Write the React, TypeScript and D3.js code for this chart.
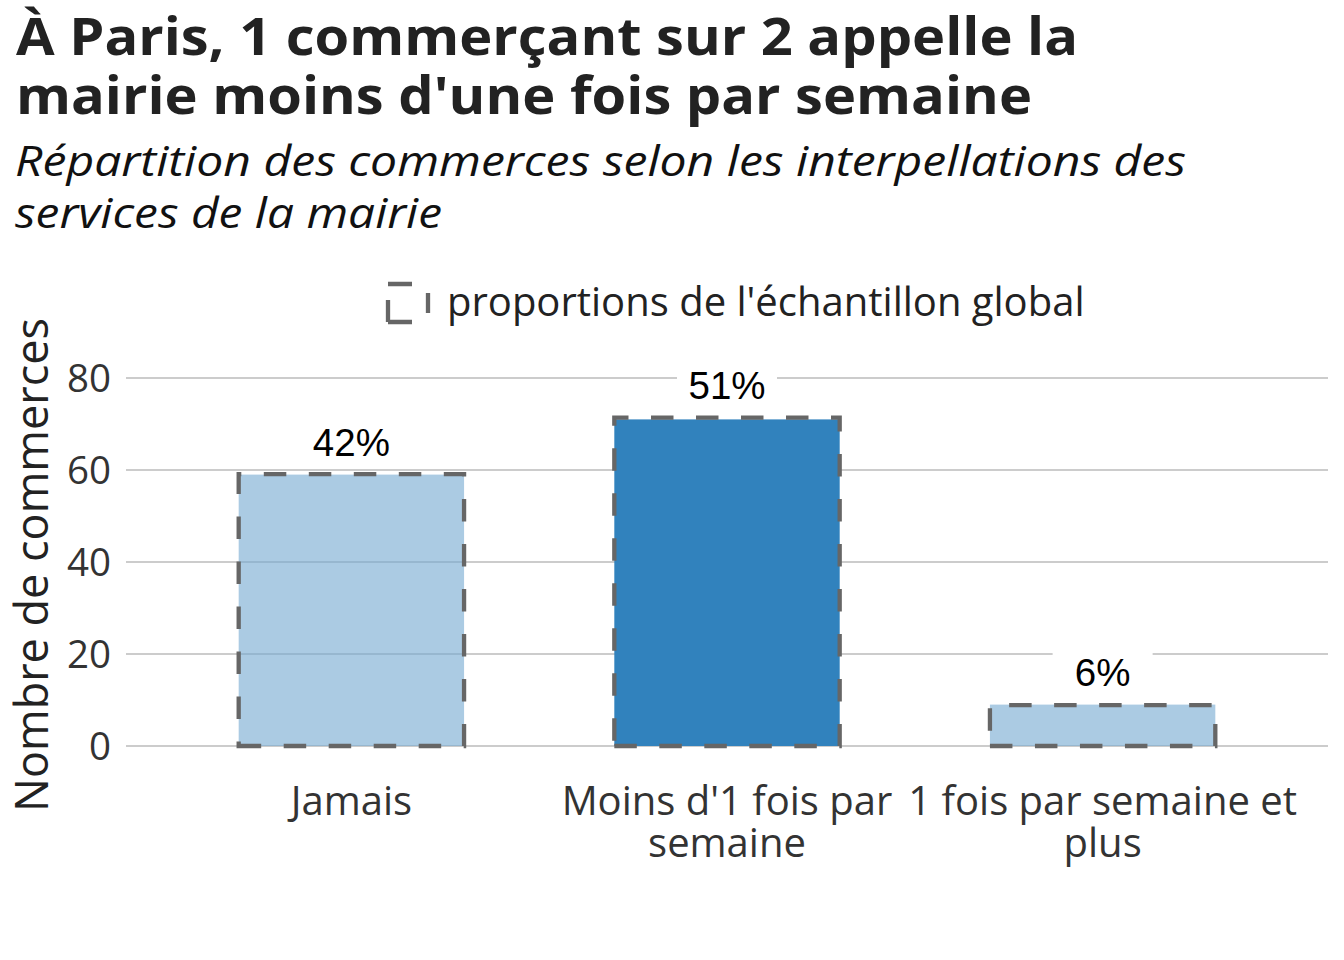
import React, { useEffect, useRef } from 'react';
import * as d3 from 'd3';

const categories = ['Jamais', "Moins d'1 fois par semaine", '1 fois par semaine et plus'];
const xLabelLines = [['Jamais'], ["Moins d'1 fois par", 'semaine'], ['1 fois par semaine et', 'plus']];
const parisValues = [59, 71, 9];
const globalValues = [59.1, 71.4, 8.9];
const pctLabels = ['42%', '51%', '6%'];
const highlighted = [false, true, false];
const yTicks = [0, 20, 40, 60, 80];

const FONT = '"Open Sans", sans-serif';

const App = () => {
  const ref = useRef<SVGSVGElement>(null);

  useEffect(() => {
    const svg = d3.select(ref.current);
    svg.selectAll('*').remove();

    const margin = { left: 126, right: 16 };
    const width = 1344;

    // titles (widths fitted to the original rendering)
    const title = svg.append('text')
      .attr('font-family', FONT).attr('font-weight', 700)
      .attr('font-size', 52).attr('fill', '#222');
    title.append('tspan').attr('x', 16).attr('y', 55)
      .attr('textLength', 1062).attr('lengthAdjust', 'spacingAndGlyphs')
      .text('À Paris, 1 commerçant sur 2 appelle la');
    title.append('tspan').attr('x', 16).attr('y', 114)
      .attr('textLength', 1016).attr('lengthAdjust', 'spacingAndGlyphs')
      .text("mairie moins d'une fois par semaine");

    const sub = svg.append('text')
      .attr('font-family', FONT).attr('font-style', 'italic')
      .attr('font-size', 42).attr('fill', '#111');
    sub.append('tspan').attr('x', 15).attr('y', 176)
      .attr('textLength', 1171).attr('lengthAdjust', 'spacingAndGlyphs')
      .text('Répartition des commerces selon les interpellations des');
    sub.append('tspan').attr('x', 15).attr('y', 228)
      .attr('textLength', 427).attr('lengthAdjust', 'spacingAndGlyphs')
      .text('services de la mairie');

    const x = d3.scaleBand()
      .domain(categories)
      .range([margin.left, width - margin.right])
      .paddingInner(0.4)
      .paddingOuter(0.3);

    const y = d3.scaleLinear().domain([0, 80]).range([746, 378]);

    // grid
    svg.append('g').selectAll('line').data(yTicks).join('line')
      .attr('x1', margin.left).attr('x2', width - margin.right)
      .attr('y1', (d) => y(d)).attr('y2', (d) => y(d))
      .attr('stroke', '#cccccc').attr('stroke-width', 2.2);

    // y tick labels
    svg.append('g').selectAll('text').data(yTicks).join('text')
      .attr('x', 111).attr('y', (d) => y(d)).attr('dy', '0.36em')
      .attr('text-anchor', 'end')
      .attr('font-family', FONT).attr('font-size', 38.5).attr('fill', '#333')
      .text((d) => d);

    // y axis title
    svg.append('text')
      .attr('transform', `translate(48, ${(318 + 812) / 2}) rotate(-90)`)
      .attr('text-anchor', 'middle')
      .attr('font-family', FONT).attr('font-size', 46).attr('fill', '#222')
      .attr('textLength', 494).attr('lengthAdjust', 'spacingAndGlyphs')
      .text('Nombre de commerces');

    // bars
    svg.append('g').selectAll('rect').data(categories).join('rect')
      .attr('x', (d) => x(d)!)
      .attr('width', x.bandwidth())
      .attr('y', (_, i) => y(parisValues[i]))
      .attr('height', (_, i) => y(0) - y(parisValues[i]))
      .attr('fill', (_, i) => (highlighted[i] ? '#3182bd' : 'rgb(115,168,208)'))
      .attr('fill-opacity', (_, i) => (highlighted[i] ? 1 : 0.6));

    // global sample outlines, drawn from the bottom-left corner
    svg.append('g').selectAll('path').data(categories).join('path')
      .attr('d', (d, i) => {
        const x0 = x(d)!;
        const x1 = x0 + x.bandwidth();
        const y0 = y(0);
        const y1 = y(globalValues[i]);
        return `M${x0},${y0}L${x1},${y0}L${x1},${y1}L${x0},${y1}Z`;
      })
      .attr('fill', 'none')
      .attr('stroke', '#666666').attr('stroke-width', 4.3)
      .attr('stroke-dasharray', '22.5 22.5');

    // percentage labels
    const lab = svg.append('g').selectAll('g').data(categories).join('g')
      .attr('transform', (d, i) => `translate(${x(d)! + x.bandwidth() / 2}, ${y(Math.max(parisValues[i], globalValues[i])) - 32})`);
    lab.append('rect')
      .attr('x', -50).attr('y', -22).attr('width', 100).attr('height', 44)
      .attr('fill', 'white');
    lab.append('text')
      .attr('text-anchor', 'middle').attr('dy', '0.36em')
      .attr('font-family', '"Liberation Sans", Arial, sans-serif').attr('font-size', 38.5).attr('fill', '#000')
      .text((_, i) => pctLabels[i]);

    // x labels
    const xl = svg.append('g').selectAll('text').data(categories).join('text')
      .attr('text-anchor', 'middle')
      .attr('font-family', FONT).attr('font-size', 40).attr('fill', '#333');
    xl.each(function (d, i) {
      const t = d3.select(this);
      xLabelLines[i].forEach((line, j) => {
        t.append('tspan')
          .attr('x', x(d)! + x.bandwidth() / 2)
          .attr('y', 815 + j * 42)
          .text(line);
      });
    });

    // legend
    const leg = svg.append('g');
    leg.append('path')
      .attr('d', 'M388,322L428,322L428,284L388,284Z')
      .attr('fill', 'none').attr('stroke', '#666666').attr('stroke-width', 4.3)
      .attr('stroke-dasharray', '24 25 20 25 24 16 22 0');
    leg.append('text')
      .attr('x', 447).attr('y', 316)
      .attr('font-family', FONT).attr('font-size', 40).attr('fill', '#222')
      .text("proportions de l'échantillon global");
  }, []);

  return (
    <svg ref={ref} width={1344} height={960} style={{ display: 'block', position: 'absolute', left: 0, top: 0, background: 'white' }} />
  );
};

export default App;
